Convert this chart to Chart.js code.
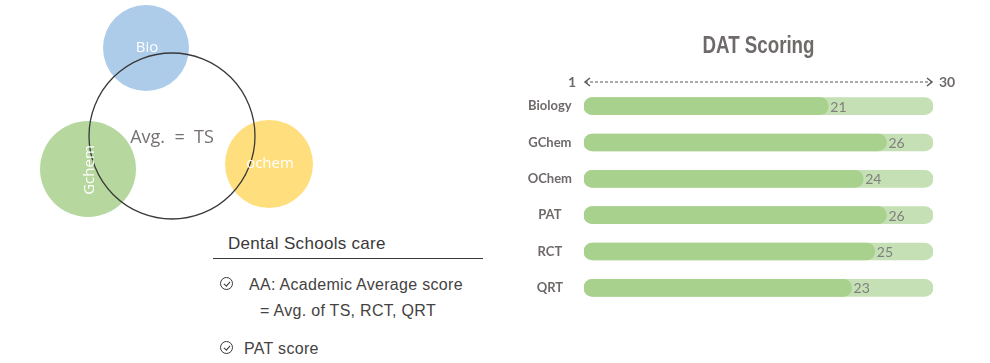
<!DOCTYPE html>
<html lang="en">
<head>
<meta charset="UTF-8">
<title>DAT Scoring</title>
<script src="https://cdn.jsdelivr.net/npm/chart.js@4.4.1/dist/chart.umd.min.js"></script>
<style>
  body { margin: 0; background: #fff; }
  #page { position: relative; width: 990px; height: 363px; overflow: hidden; }
  canvas { position: absolute; }
  #venn { left: 0; top: 0; }
  #dat { left: 500px; top: 0; }
  .txt { position: absolute; white-space: nowrap; font-family: "Liberation Sans", Arial, sans-serif; color: #454242; letter-spacing: 0.3px; }
  .head { left: 228px; top: 235px; font-size: 17px; line-height: 17px; color: #3a3838; }
  .rule { position: absolute; left: 213px; top: 258px; width: 270px; border-top: 1.5px solid #3a3838; }
  .item { font-size: 16px; line-height: 16px; }
  .chk { position: absolute; width: 11px; height: 11px; border: 1.3px solid #3a3838; border-radius: 50%; }
  .chk:after { content: ""; position: absolute; left: 4px; top: 1.5px; width: 2.5px; height: 5px;
               border-right: 1.2px solid #3a3838; border-bottom: 1.2px solid #3a3838; transform: rotate(40deg); }
</style>
</head>
<body>
<div id="page">
  <canvas id="venn" width="330" height="230"></canvas>
  <canvas id="dat" width="490" height="363"></canvas>

  <div class="txt head">Dental Schools care</div>
  <div class="rule"></div>
  <span class="chk" style="left:220px; top:277px;"></span>
  <div class="txt item" style="left:249px; top:277px;">AA: Academic Average score</div>
  <div class="txt item" style="left:260px; top:303px;">= Avg. of TS, RCT, QRT</div>
  <span class="chk" style="left:220px; top:341px;"></span>
  <div class="txt item" style="left:244px; top:341px;">PAT score</div>
</div>

<script>
// DAT scores
var categories = ['Biology', 'GChem', 'OChem', 'PAT', 'RCT', 'QRT'];
var scores = [21, 26, 24, 26, 25, 23];
var fullScale = [30, 30, 30, 30, 30, 30];
var rangeLabels = ['1', '30'];

// venn circles (pixel units of the small chart)
var vennLabels = ['Bio', 'Gchem', 'ochem'];
var vennX = [146, 88, 269];
var vennY = [48, 169, 164];
var vennR = [43, 48, 44];
var vennColors = ['rgba(157,195,230,0.85)', 'rgba(169,209,142,0.85)', 'rgba(255,217,102,0.85)'];
var centerLabel = 'Avg.  =  TS';
var centerX = 172, centerY = 136, centerR = 83;

var grayText = '#6f6a6a';

// ---------- venn ----------
var vennText = {
    id: 'vennText',
    afterDatasetsDraw: function(chart) {
        var ctx = chart.ctx;
        var fills = chart.getDatasetMeta(1).data;
        ctx.save();
        ctx.fillStyle = '#fff';
        ctx.font = '15px "Open Sans", sans-serif';
        ctx.textAlign = 'center';
        ctx.textBaseline = 'middle';
        fills.forEach(function(el, i) {
            if (vennLabels[i] == 'Gchem') {
                ctx.save();
                ctx.translate(el.x + 2, el.y + 1);
                ctx.rotate(-Math.PI / 2);
                ctx.fillText(vennLabels[i], 0, 0);
                ctx.restore();
            } else {
                ctx.fillText(vennLabels[i], el.x + 1, el.y);
            }
        });
        var c = chart.getDatasetMeta(0).data[0];
        ctx.fillStyle = '#767171';
        ctx.font = '18px "Open Sans", sans-serif';
        ctx.fillText(centerLabel, c.x, c.y + 2);
        ctx.restore();
    }
};

var venn = new Chart(document.getElementById('venn').getContext('2d'), {
    type: 'bubble',
    data: {
        datasets: [{
            data: [{x: centerX, y: centerY, r: centerR}],
            backgroundColor: 'rgba(0,0,0,0)',
            borderColor: '#3a3838',
            borderWidth: 1.3,
            clip: false,
            order: 0
        }, {
            data: vennX.map(function(x, i) { return {x: x, y: vennY[i], r: vennR[i]}; }),
            backgroundColor: vennColors,
            borderWidth: 0,
            clip: false,
            order: 1
        }]
    },
    options: {
        responsive: false,
        animation: false,
        events: [],
        layout: { padding: 0, autoPadding: false },
        plugins: { legend: { display: false }, tooltip: { enabled: false } },
        scales: {
            x: { display: false, min: 0, max: 330 },
            y: { display: false, min: 0, max: 230, reverse: true }
        }
    },
    plugins: [vennText]
});

// ---------- DAT bars ----------
var datDecor = {
    id: 'datDecor',
    afterDatasetsDraw: function(chart) {
        var ctx = chart.ctx;
        var area = chart.chartArea;
        var xs = chart.scales.x;
        var x0 = xs.getPixelForValue(0);
        var x1 = xs.getPixelForValue(30);
        ctx.save();

        // title, squeezed to look like a condensed face
        ctx.save();
        ctx.fillStyle = grayText;
        ctx.font = 'bold 24px "Liberation Sans", Arial, sans-serif';
        ctx.textAlign = 'center';
        ctx.textBaseline = 'alphabetic';
        ctx.translate((area.left + area.right) / 2, 53);
        ctx.scale(0.78, 1);
        ctx.fillText('DAT Scoring', 0, 0);
        ctx.restore();

        // dashed range arrow
        var y = area.top - 6;
        ctx.strokeStyle = '#595959';
        ctx.lineWidth = 1.2;
        ctx.setLineDash([3, 2]);
        ctx.beginPath();
        ctx.moveTo(x0 + 1, y);
        ctx.lineTo(x1 - 1, y);
        ctx.stroke();
        ctx.setLineDash([]);
        ctx.lineWidth = 1.5;
        ctx.beginPath();
        ctx.moveTo(x0 + 6, y - 4); ctx.lineTo(x0 + 1, y); ctx.lineTo(x0 + 6, y + 4);
        ctx.moveTo(x1 - 6, y - 4); ctx.lineTo(x1 - 1, y); ctx.lineTo(x1 - 6, y + 4);
        ctx.stroke();

        ctx.fillStyle = grayText;
        ctx.font = 'bold 14px Lato, sans-serif';
        ctx.textBaseline = 'middle';
        ctx.textAlign = 'right';
        ctx.fillText(rangeLabels[0], x0 - 8, y);
        ctx.textAlign = 'left';
        ctx.fillText(rangeLabels[1], x1 + 6, y);

        // value labels
        ctx.fillStyle = '#7f7f7f';
        ctx.font = '14px Lato, sans-serif';
        chart.getDatasetMeta(0).data.forEach(function(bar, i) {
            ctx.fillText(scores[i], bar.x + 2, bar.y + 1);
        });
        ctx.restore();
    }
};

var dat = new Chart(document.getElementById('dat').getContext('2d'), {
    type: 'bar',
    data: {
        labels: categories,
        datasets: [{
            label: 'Score',
            data: scores,
            backgroundColor: '#a9d18e',
            barThickness: 17,
            borderRadius: 9,
            borderSkipped: false,
            grouped: false
        }, {
            label: 'Max',
            data: fullScale,
            backgroundColor: '#c5e0b4',
            barThickness: 17,
            borderRadius: 9,
            borderSkipped: false,
            grouped: false
        }]
    },
    options: {
        indexAxis: 'y',
        responsive: false,
        animation: false,
        events: [],
        layout: { padding: { left: 0, right: 57, top: 88, bottom: 57 } },
        plugins: { legend: { display: false }, tooltip: { enabled: false } },
        scales: {
            x: { display: false, min: 0, max: 30 },
            y: {
                grid: { display: false, drawTicks: false },
                border: { display: false },
                afterFit: function(scale) { scale.width = 84; },
                ticks: {
                    crossAlign: 'center',
                    padding: 12,
                    color: grayText,
                    font: { family: 'Lato', weight: 'bold', size: 13 }
                }
            }
        }
    },
    plugins: [datDecor]
});
</script>
</body>
</html>
